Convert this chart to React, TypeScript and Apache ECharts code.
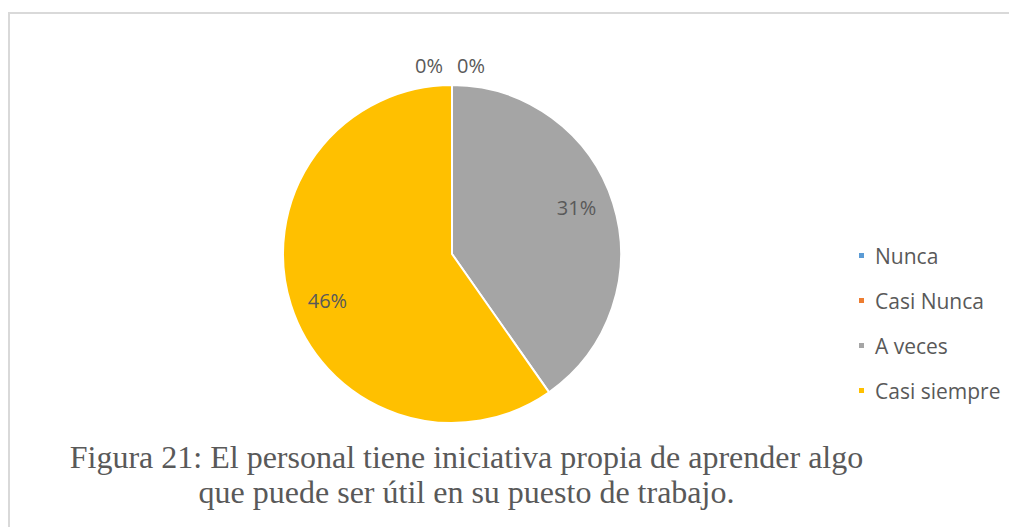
import React, { useEffect, useRef } from "react";
import * as echarts from "echarts";

const categories = ["Nunca", "Casi Nunca", "A veces", "Casi siempre"];
const values = [0, 0, 31, 46];
const colors = ["#5B9BD5", "#ED7D31", "#A5A5A5", "#FFC000"];
const captionLines = [
  "Figura 21: El personal tiene iniciativa propia de aprender algo",
  "que puede ser útil en su puesto de trabajo.",
];

const TEXT = "#595959";
const FONT = "'Open Sans', 'Noto Sans', sans-serif";

export default function App() {
  const ref = useRef<HTMLDivElement>(null);

  useEffect(() => {
    if (!ref.current) return;
    const chart = echarts.init(ref.current, undefined, { renderer: "svg" });

    const mainData = categories.map((name, i) => ({
      name,
      value: values[i],
      itemStyle: { color: colors[i] },
      label: { show: values[i] === 0 },
    }));
    const labelData = categories.map((name, i) => ({
      name,
      value: values[i],
      itemStyle: { color: "rgba(0,0,0,0)", borderWidth: 0 },
      label: { show: values[i] !== 0 },
    }));

    chart.setOption({
      animation: false,
      color: colors,
      legend: {
        orient: "vertical",
        left: 852,
        top: 238.5,
        icon: "rect",
        itemWidth: 7,
        itemHeight: 7,
        itemGap: 21,
        selectedMode: false,
        data: categories.map((name, i) => ({ name, itemStyle: { color: colors[i] } })),
        textStyle: {
          color: TEXT,
          fontFamily: FONT,
          fontSize: 21,
          lineHeight: 24,
          padding: [0, 0, 0, 5],
        },
      },
      graphic: [
        {
          type: "rect",
          shape: { x: 9, y: 13, width: 1010, height: 530 },
          style: { fill: "none", stroke: "#D9D9D9", lineWidth: 2 },
          silent: true,
        },
        {
          type: "text",
          x: 466.5,
          y: 439.5,
          style: {
            text: captionLines.join("\n"),
            align: "center",
            fill: TEXT,
            font: "32px 'Liberation Serif', 'Times New Roman', serif",
            lineHeight: 35,
          },
          silent: true,
        },
      ],
      series: [
        {
          type: "pie",
          center: [452, 254],
          radius: [0, 169],
          startAngle: 90,
          clockwise: true,
          avoidLabelOverlap: false,
          silent: true,
          itemStyle: { borderColor: "#fff", borderWidth: 2 },
          label: {
            position: "outside",
            formatter: "{c}%",
            color: TEXT,
            fontFamily: FONT,
            fontSize: 20,
            distanceToLabelLine: 0,
          },
          labelLine: { show: false, length: 19.5, length2: 0 },
          labelLayout: (p: any) => {
            if (p.dataIndex === 0) return { align: "right", dx: -9 };
            if (p.dataIndex === 1) return { align: "left", dx: 5 };
            return {};
          },
          emphasis: { disabled: true },
          data: mainData,
        },
        {
          type: "pie",
          center: [452, 254],
          radius: [100, 160],
          startAngle: 93,
          clockwise: true,
          avoidLabelOverlap: false,
          silent: true,
          label: {
            position: "inside",
            formatter: "{c}%",
            color: TEXT,
            fontFamily: FONT,
            fontSize: 20,
          },
          labelLine: { show: false },
          emphasis: { disabled: true },
          data: labelData,
        },
      ],
    });

    return () => chart.dispose();
  }, []);

  return (
    <div
      ref={ref}
      style={{ position: "fixed", left: 0, top: 0, width: 1009, height: 527, background: "#fff" }}
    />
  );
}
